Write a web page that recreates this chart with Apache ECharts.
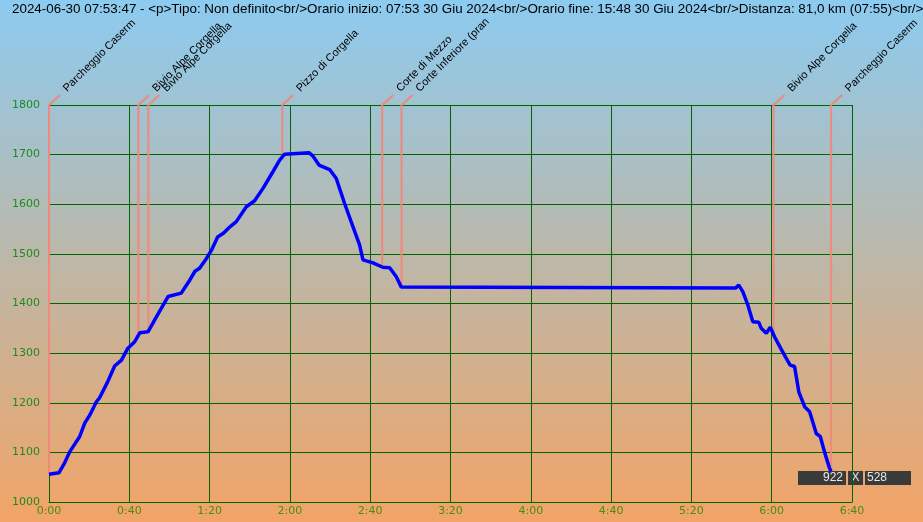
<!DOCTYPE html>
<html>
<head>
<meta charset="utf-8">
<script src="https://cdn.jsdelivr.net/npm/echarts@6/dist/echarts.min.js"></script>
<style>
html,body{margin:0;padding:0;overflow:hidden;}
#c{width:923px;height:522px;}
</style>
</head>
<body>
<div id="c"></div>
<script>
// ---- data ----
const titleText = '2024-06-30 07:53:47 - <p>Tipo: Non definito<br/>Orario inizio: 07:53 30 Giu 2024<br/>Orario fine: 15:48 30 Giu 2024<br/>Distanza: 81,0 km (07:55)<br/>';
// elapsed minutes and elevation (m)
const times = [0, 5.0, 7.8, 10.3, 15.3, 17.8, 20.3, 23.6, 25.2, 29.2, 32.7, 36.1, 39.3, 42.7, 45.2, 49.3, 53.5, 59.3, 65.9, 70.1,
  72.7, 75.0, 78.0, 81.0, 84.0, 87.0, 90.0, 93.3, 98.3, 102.4, 106.6, 111.6, 114.9, 117.4, 129.5, 131.5, 134.5, 139.8, 143.1,
  147.2, 151.4, 154.7, 156.4, 161.4, 166.3, 169.7, 173.0, 175.5, 342.0, 343.6, 345.6, 348.1, 350.6, 353.6, 354.8, 357.3,
  359.3, 361.4, 363.9, 366.9, 369.2, 371.4, 373.5, 376.4, 378.9, 382.2, 384.2, 386.3, 388.8, 389.6];
const elevations = [1056, 1059, 1079, 1101, 1132, 1159, 1175, 1202, 1210, 1242, 1274, 1286, 1310, 1323, 1341, 1343, 1373, 1414, 1421, 1447,
  1465, 1471, 1488, 1508, 1534, 1542, 1554, 1565, 1595, 1607, 1632, 1666, 1689, 1701, 1704, 1697, 1679, 1670, 1652,
  1602, 1555, 1518, 1488, 1482, 1473, 1472, 1454, 1433, 1431, 1437, 1424, 1397, 1363, 1362, 1350, 1340,
  1352, 1333, 1314, 1292, 1276, 1273, 1222, 1192, 1182, 1138, 1132, 1101, 1068, 1062];
// waypoint markers
const markerNames = ['Parcheggio Caserm', 'Bivio Alpe Corgella', 'Bivio Alpe Corgella', 'Pizzo di Corgella', 'Corte di Mezzo', 'Corte Inferiore (pran', 'Bivio Alpe Corgella', 'Parcheggio Caserm'];
const markerTimes = [0, 44.5, 49.5, 116.2, 166.0, 175.6, 360.9, 389.6];
const markerElev = [1056, 1341, 1343, 1701, 1473, 1433, 1340, 1068];
// axis ticks
const xTickLabels = ['0:00', '0:40', '1:20', '2:00', '2:40', '3:20', '4:00', '4:40', '5:20', '6:00', '6:40'];
const xInterval = 40;
const yMin = 1000, yMax = 1800, yInterval = 100;
const sizeBox = ['922', 'X', '528'];

// ---- chart ----
const chart = echarts.init(document.getElementById('c'), null, {renderer: 'canvas'});
const lineData = times.map((t, i) => [t, elevations[i]]);
const markerData = markerTimes.map((t, i) => [t, markerElev[i]]);
const gridColor = '#006400';

chart.setOption({
  animation: false,
  backgroundColor: {
    type: 'linear', x: 0, y: 0, x2: 0, y2: 1,
    colorStops: [
      {offset: 0, color: '#8CCBF0'},
      {offset: 0.5, color: '#BDB7A8'},
      {offset: 1, color: '#F2A466'}
    ]
  },
  grid: {left: 49, right: 71, top: 105, bottom: 20, containLabel: false},
  xAxis: {
    type: 'value', min: 0, max: xInterval * (xTickLabels.length - 1), interval: xInterval,
    axisLine: {show: true, lineStyle: {color: gridColor, width: 1}},
    axisTick: {show: false},
    splitLine: {show: true, lineStyle: {color: gridColor, width: 1}},
    axisLabel: {
      color: '#4E8A10', fontFamily: 'DejaVu Sans', fontSize: 11, margin: 4,
      formatter: v => xTickLabels[Math.round(v / xInterval)]
    }
  },
  yAxis: {
    type: 'value', min: yMin, max: yMax, interval: yInterval,
    axisLine: {show: true, lineStyle: {color: gridColor, width: 1}},
    axisTick: {show: false},
    splitLine: {show: true, lineStyle: {color: gridColor, width: 1}},
    axisLabel: {color: '#1F8A1F', fontFamily: 'DejaVu Sans', fontSize: 11, margin: 9, formatter: v => String(v)}
  },
  graphic: [
    {type: 'text', left: 12, top: 3, style: {text: titleText, fill: '#000', font: '13.4px "Liberation Sans"'}},
    {type: 'rect', shape: {x: 798, y: 471, width: 48, height: 14}, style: {fill: '#3A3A3A'}},
    {type: 'rect', shape: {x: 848, y: 471, width: 15, height: 14}, style: {fill: '#3A3A3A'}},
    {type: 'rect', shape: {x: 865, y: 471, width: 46, height: 14}, style: {fill: '#3A3A3A'}},
    {type: 'text', x: 843, y: 478, style: {text: sizeBox[0], fill: '#E8E8E8', font: '12px "Liberation Sans"', align: 'right', verticalAlign: 'middle'}},
    {type: 'text', x: 855.5, y: 478, style: {text: sizeBox[1], fill: '#E8E8E8', font: '12px "Liberation Sans"', align: 'center', verticalAlign: 'middle'}},
    {type: 'text', x: 867, y: 478, style: {text: sizeBox[2], fill: '#E8E8E8', font: '12px "Liberation Sans"', align: 'left', verticalAlign: 'middle'}}
  ],
  series: [
    {
      type: 'custom', z: 2, clip: false, data: markerData,
      renderItem: function (params, api) {
        const p = api.coord([api.value(0), api.value(1)]);
        const top = api.coord([api.value(0), yMax]);
        return {
          type: 'group',
          children: [
            {type: 'polyline', shape: {points: [[p[0], p[1]], [top[0], top[1]], [top[0] + 11, top[1] - 10]]},
             style: {stroke: '#F0887C', lineWidth: 2, fill: null}},
            {type: 'text', x: top[0] + 16, y: top[1] - 15, rotation: Math.PI / 4,
             style: {text: markerNames[params.dataIndex], fill: '#000', font: '11px "Liberation Sans"', align: 'left', verticalAlign: 'middle'}}
          ]
        };
      }
    },
    {
      type: 'line', z: 3, data: lineData, showSymbol: false, symbol: 'none',
      lineStyle: {color: '#0000FF', width: 3.5}
    }
  ]
});
</script>
</body>
</html>
